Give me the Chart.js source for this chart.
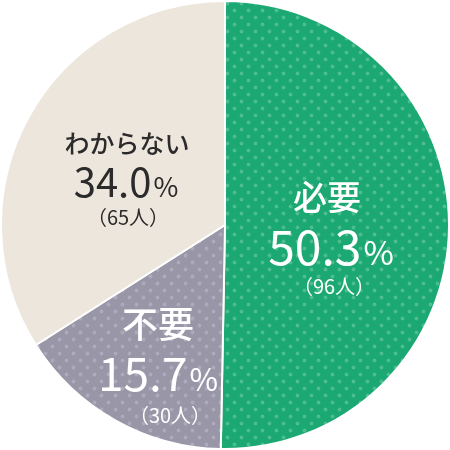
<!DOCTYPE html>
<html><head><meta charset="utf-8">
<script src="https://cdn.jsdelivr.net/npm/chart.js@4/dist/chart.umd.min.js"></script>
<style>html,body{margin:0;padding:0;background:#fff}#wrap{width:450px;height:450px}</style>
</head><body><div id="wrap"><canvas id="c" width="450" height="450"></canvas></div>
<script>
const categories = ['必要', '不要', 'わからない'];
const percents = [50.3, 15.7, 34.0];
const counts = [96, 30, 65];

function dotTile(bg, dot) {
  const t = document.createElement('canvas');
  t.width = 14; t.height = 14;
  const g = t.getContext('2d');
  g.fillStyle = bg; g.fillRect(0, 0, 14, 14);
  g.fillStyle = dot;
  [[3.5, 3.5], [10.5, 10.5]].forEach(p => { g.beginPath(); g.arc(p[0], p[1], 1.9, 0, Math.PI * 2); g.fill(); });
  return t;
}
const ctx0 = document.getElementById('c').getContext('2d');
const fills = [
  ctx0.createPattern(dotTile('#1ba872', '#4cbd8f'), 'repeat'),
  ctx0.createPattern(dotTile('#9896a7', '#adabbb'), 'repeat'),
  '#ece6dc'
];

const labelStyles = [
  { color: '#ffffff', w: 400, name: [327, 197, 34], pct: [331, 248, 48], cnt: [334, 286, 20] },
  { color: '#ffffff', w: 400, name: [158, 324, 36], pct: [158, 374, 46], cnt: [170, 415, 20] },
  { color: '#2b2b2b', w: 400, name: [127, 143, 25], pct: [126, 183, 40], cnt: [128, 217, 20] }
];

const textPlugin = {
  id: 'sliceText',
  afterDraw(chart) {
    const c = chart.ctx;
    c.save();
    categories.forEach((name, i) => {
      const s = labelStyles[i];
      c.fillStyle = s.color;
      c.textAlign = 'center';
      c.textBaseline = 'middle';
      c.font = `500 ${s.name[2]}px "Noto Sans CJK JP"`;
      c.fillText(name, s.name[0], s.name[1]);
      const num = percents[i].toFixed(1);
      const nf = `${s.w} ${s.pct[2]}px "Noto Sans CJK JP"`;
      const pf = `${s.w} ${Math.round(s.pct[2] * 0.68)}px "Noto Sans CJK JP"`;
      c.font = nf; const wn = c.measureText(num).width;
      c.font = pf; const wp = c.measureText('%').width;
      const x0 = s.pct[0] - (wn + wp + 2) / 2;
      c.textAlign = 'left';
      c.textBaseline = 'alphabetic';
      const base = s.pct[1] + s.pct[2] * 0.36;
      c.font = nf; c.fillText(num, x0, base);
      c.font = pf; c.fillText('%', x0 + wn + 2, base);
      c.textAlign = 'center';
      c.textBaseline = 'middle';
      c.font = `400 ${s.cnt[2]}px "Noto Sans CJK JP"`;
      c.fillText('（' + counts[i] + '人）', s.cnt[0], s.cnt[1]);
    });
    c.restore();
  }
};

new Chart(document.getElementById('c'), {
  type: 'pie',
  data: {
    labels: categories,
    datasets: [{ data: percents, backgroundColor: fills, borderColor: '#ffffff', borderWidth: 2 }]
  },
  options: {
    responsive: false,
    animation: false,
    devicePixelRatio: 1,
    layout: { padding: 0 },
    plugins: { legend: { display: false }, tooltip: { enabled: false } }
  },
  plugins: [textPlugin]
});
</script></body></html>
